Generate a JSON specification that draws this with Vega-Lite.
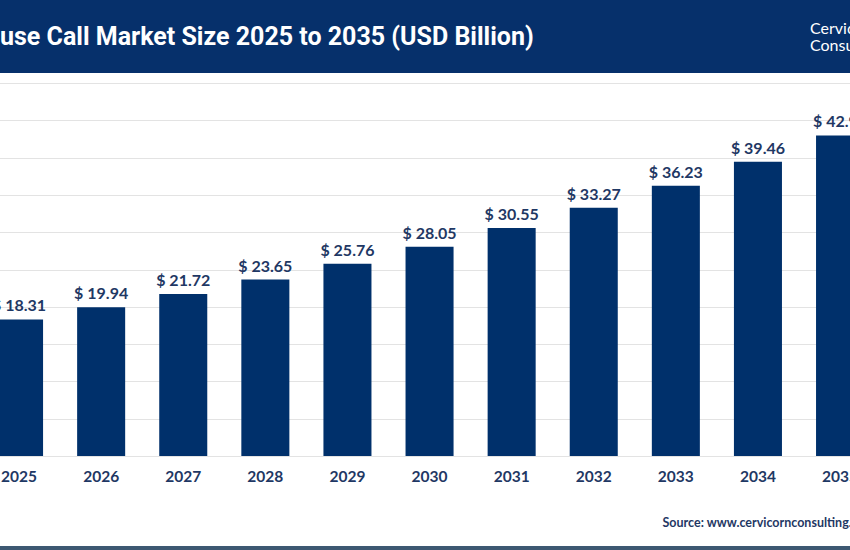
{
  "$schema": "https://vega.github.io/schema/vega-lite/v6.json",
  "padding": 0,
  "background": "white",
  "config": {
    "view": {"stroke": null},
    "locale": {"number": {"decimal": ".", "thousands": ",", "grouping": [3], "currency": ["$ ", ""]}}
  },
  "title": {
    "text": ["Cervicorn", "Consulting"],
    "anchor": "start",
    "frame": "group",
    "dx": 810,
    "offset": -54,
    "baseline": "top",
    "font": "Lato",
    "fontSize": 16,
    "fontWeight": "normal",
    "color": "white",
    "lineHeight": 17
  },
  "spacing": 10,
  "vconcat": [
    {
      "width": 850,
      "height": 73,
      "data": {"values": [{}]},
      "mark": {"type": "rect", "color": "#06306b"},
      "encoding": {},
      "title": {
        "text": "use Call Market Size 2025 to 2035 (USD Billion)",
        "anchor": "start",
        "frame": "group",
        "offset": -62,
        "baseline": "middle",
        "font": "Roboto",
        "fontSize": 25,
        "fontWeight": "bold",
        "color": "white"
      }
    },
    {
      "spacing": 17,
      "vconcat": [
        {
          "width": 850,
          "height": 373,
          "data": {
            "values": [
              {"year": "2025", "value": 18.31},
              {"year": "2026", "value": 19.94},
              {"year": "2027", "value": 21.72},
              {"year": "2028", "value": 23.65},
              {"year": "2029", "value": 25.76},
              {"year": "2030", "value": 28.05},
              {"year": "2031", "value": 30.55},
              {"year": "2032", "value": 33.27},
              {"year": "2033", "value": 36.23},
              {"year": "2034", "value": 39.46},
              {"year": "2035", "value": 42.97}
            ]
          },
          "encoding": {
            "x": {
              "field": "year",
              "type": "nominal",
              "sort": null,
              "scale": {"range": [-22, 881.1], "paddingInner": 0.415, "paddingOuter": 0.2075},
              "axis": {
                "title": "Source: www.cervicornconsulting.com",
                "labelAngle": 0,
                "domain": false,
                "ticks": false,
                "tickSize": 0,
                "grid": false,
                "labelPadding": 13,
                "labelFont": "Lato",
                "labelFontSize": 15.5,
                "labelFontWeight": "bold",
                "labelColor": "#1f3864",
                "titleFont": "Lato",
                "titleFontSize": 12.5,
                "titleFontWeight": "bold",
                "titleColor": "#1f3864",
                "titleAnchor": "start",
                "titleAlign": "left",
                "titleX": 662,
                "titleY": 66,
                "titleBaseline": "middle"
              }
            },
            "y": {
              "field": "value",
              "type": "quantitative",
              "scale": {"domain": [0, 50], "nice": false},
              "axis": {
                "title": null,
                "labels": false,
                "ticks": false,
                "domain": false,
                "values": [0, 5, 10, 15, 20, 25, 30, 35, 40, 45, 50],
                "grid": true,
                "gridColor": "#e3e3e3",
                "gridWidth": 1
              }
            }
          },
          "layer": [
            {"mark": {"type": "bar", "color": "#00306b", "clip": true}},
            {
              "mark": {"type": "text", "clip": true, "dy": -8, "baseline": "alphabetic", "font": "Lato", "fontSize": 16, "fontWeight": "bold", "color": "#1f3864"},
              "encoding": {"text": {"field": "value", "type": "quantitative", "format": "$.2f"}}
            }
          ]
        },
        {
          "width": 850,
          "height": 4,
          "data": {"values": [{}]},
          "mark": {"type": "rect", "color": "#3d5872"},
          "encoding": {}
        }
      ]
    }
  ]
}
